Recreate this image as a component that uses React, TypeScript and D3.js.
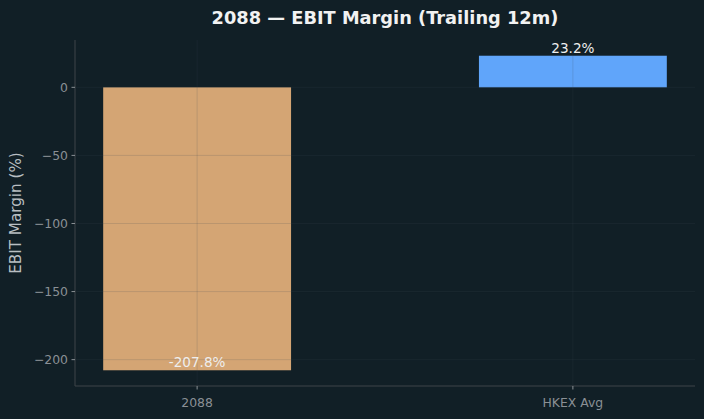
import { useEffect, useRef } from 'react';
import * as d3 from 'd3';

const categories: string[] = ['2088', 'HKEX Avg'];
const margins: number[] = [-207.8, 23.2];
const barColors: string[] = ['#d4a574', '#60a5fa'];
const yTicks: number[] = [0, -50, -100, -150, -200];

const W = 704;
const H = 419;
const left = 75;
const right = 695;
const top = 40;
const bottom = 386;

const App: React.FC = () => {
  const svgRef = useRef<SVGSVGElement | null>(null);

  useEffect(() => {
    if (!svgRef.current) return;
    const svg = d3.select(svgRef.current);
    svg.selectAll('*').remove();

    const font = 'DejaVu Sans, sans-serif';

    // matplotlib-like numeric x with 0.5 wide bars and 5% margins
    const x = d3.scaleLinear().domain([-0.325, 1.325]).range([left, right]);
    const lo = d3.min(margins) ?? 0;
    const hi = d3.max(margins) ?? 0;
    const pad = (hi - lo) * 0.05;
    const y = d3.scaleLinear().domain([lo - pad, hi + pad]).range([bottom, top]);
    const barW = 0.5;

    svg.append('rect').attr('width', W).attr('height', H).attr('fill', '#111f26');

    // bars
    svg
      .append('g')
      .selectAll('rect')
      .data(margins)
      .enter()
      .append('rect')
      .attr('x', (_, i) => x(i - barW / 2))
      .attr('width', x(barW) - x(0))
      .attr('y', (d) => y(Math.max(0, d)))
      .attr('height', (d) => Math.abs(y(d) - y(0)))
      .attr('fill', (_, i) => barColors[i]);

    // grid (drawn on top like the reference)
    const grid = svg.append('g').attr('stroke', '#3e4e56').attr('stroke-opacity', 0.22).attr('stroke-width', 0.8);
    yTicks.forEach((t) => {
      grid.append('line').attr('x1', left).attr('x2', right).attr('y1', y(t)).attr('y2', y(t));
    });
    categories.forEach((_, i) => {
      grid.append('line').attr('x1', x(i)).attr('x2', x(i)).attr('y1', top).attr('y2', bottom);
    });

    // spines
    svg.append('line').attr('x1', left).attr('x2', left).attr('y1', top).attr('y2', bottom).attr('stroke', '#3f4548');
    svg.append('line').attr('x1', left).attr('x2', right).attr('y1', bottom).attr('y2', bottom).attr('stroke', '#3f4548');

    // y ticks
    const yAxis = svg.append('g');
    yTicks.forEach((t) => {
      yAxis.append('line').attr('x1', left - 3.5).attr('x2', left).attr('y1', y(t)).attr('y2', y(t)).attr('stroke', '#8a9095');
      yAxis
        .append('text')
        .attr('x', left - 7)
        .attr('y', y(t))
        .attr('dy', '0.35em')
        .attr('text-anchor', 'end')
        .attr('fill', '#8a9095')
        .attr('font-size', 12.4)
        .attr('font-family', font)
        .text(d3.format('')(t).replace('-', '\u2212'));
    });

    // x ticks
    categories.forEach((c, i) => {
      svg.append('line').attr('x1', x(i)).attr('x2', x(i)).attr('y1', bottom).attr('y2', bottom + 3.5).attr('stroke', '#8a9095');
      svg
        .append('text')
        .attr('x', x(i))
        .attr('y', bottom + 21)
        .attr('text-anchor', 'middle')
        .attr('fill', '#8a9095')
        .attr('font-size', 12.4)
        .attr('font-family', font)
        .text(c);
    });

    // value labels
    margins.forEach((v, i) => {
      svg
        .append('text')
        .attr('x', x(i))
        .attr('y', y(v) - 3)
        .attr('text-anchor', 'middle')
        .attr('fill', '#eeeeee')
        .attr('font-size', 13.6)
        .attr('font-family', font)
        .text(`${v.toFixed(1)}%`);
    });

    // y label
    svg
      .append('text')
      .attr('transform', `translate(21,${(top + bottom) / 2}) rotate(-90)`)
      .attr('text-anchor', 'middle')
      .attr('fill', '#b8bec2')
      .attr('font-size', 15.2)
      .attr('font-family', font)
      .text('EBIT Margin (%)');

    // title
    svg
      .append('text')
      .attr('x', (left + right) / 2)
      .attr('y', 24)
      .attr('text-anchor', 'middle')
      .attr('fill', '#f2f2f2')
      .attr('font-size', 17.8)
      .attr('font-weight', 'bold')
      .attr('font-family', font)
      .text('2088 \u2014 EBIT Margin (Trailing 12m)');
  }, []);

  return (
    <svg
      ref={svgRef}
      width={W}
      height={H}
      style={{ position: 'fixed', left: 0, top: 0, display: 'block' }}
    ></svg>
  );
};

export default App;
